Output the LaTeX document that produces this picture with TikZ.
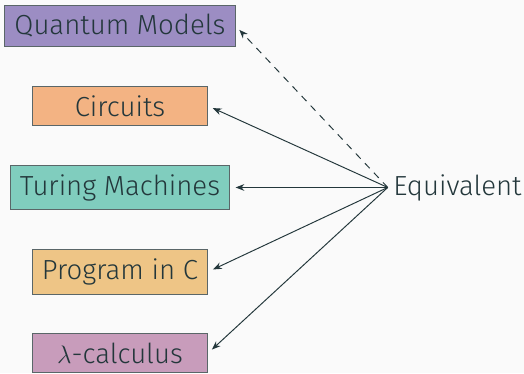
\documentclass[tikz,border=0pt]{standalone}
\usepackage{fontspec}
\setsansfont{Fira Sans Light}
\usetikzlibrary{arrows.meta, positioning}
\definecolor{pagebg}{RGB}{250,250,250}
\definecolor{darkteal}{RGB}{35,55,59}
\definecolor{boxborder}{RGB}{90,102,104}
\definecolor{purplefill}{RGB}{156,141,195}
\definecolor{orangefill}{RGB}{243,179,131}
\definecolor{tealfill}{RGB}{128,205,190}
\definecolor{sandfill}{RGB}{238,197,134}
\definecolor{pinkfill}{RGB}{200,156,187}
\tikzset{
  purplebox/.style={
    rectangle, fill=purplefill, draw=boxborder, line width=0.6pt,
    font=\sffamily\fontsize{15.7}{19}\selectfont, text=darkteal,
    inner xsep=5.5pt, inner ysep=5.2pt, minimum width=3.5cm},
  orangebox/.style={
    rectangle, fill=orangefill, draw=boxborder, line width=0.6pt,
    font=\sffamily\fontsize{15.7}{19}\selectfont, text=darkteal,
    inner xsep=5.5pt, inner ysep=5.2pt, minimum width=3.5cm},
  tealbox/.style={
    rectangle, fill=tealfill, draw=boxborder, line width=0.6pt,
    font=\sffamily\fontsize{15.7}{19}\selectfont, text=darkteal,
    inner xsep=5.5pt, inner ysep=5.2pt, minimum width=3.5cm},
  sandbox/.style={
    rectangle, fill=sandfill, draw=boxborder, line width=0.6pt,
    font=\sffamily\fontsize{15.7}{19}\selectfont, text=darkteal,
    inner xsep=5.5pt, inner ysep=5.2pt, minimum width=3.5cm},
  pinkbox/.style={
    rectangle, fill=pinkfill, draw=boxborder, line width=0.6pt,
    font=\sffamily\fontsize{15.7}{19}\selectfont, text=darkteal,
    inner xsep=5.5pt, inner ysep=5.2pt, minimum width=3.5cm},
  arrow/.style={-{Stealth[length=5pt, width=3.8pt]}, line width=0.55pt,
                color=darkteal, shorten >=3pt}
}
\begin{document}
\begin{tikzpicture}[x=0.02cm, y=-0.02cm, node distance=0.77cm and 3.15cm]

  %% page background
  \fill[pagebg] (0,0) rectangle (524,373);
  \useasboundingbox (0,0) rectangle (524,373);

  %% models of computation
  \node[purplebox] (qmodel) at (120,26) {Quantum Models};
  \node[orangebox, below=of qmodel] (circ) {Circuits};
  \node[tealbox, below=of circ] (turing) {Turing Machines};
  \node[sandbox, below=of turing] (progc) {Program in C};
  \node[pinkbox, below=of progc] (lcalc) {$\lambda$-calculus};

  %% label
  \node[right=of turing, inner sep=3pt, text=darkteal,
        font=\sffamily\fontsize{15.7}{19}\selectfont] (eqv) {Equivalent};

  %% arrows
  \draw[arrow, dash pattern=on 4pt off 3.5pt] (eqv.west) -- (qmodel.east);
  \draw[arrow] (eqv.west) -- (circ.east);
  \draw[arrow] (eqv.west) -- (turing.east);
  \draw[arrow] (eqv.west) -- (progc.east);
  \draw[arrow] (eqv.west) -- (lcalc.east);

\end{tikzpicture}
\end{document}
